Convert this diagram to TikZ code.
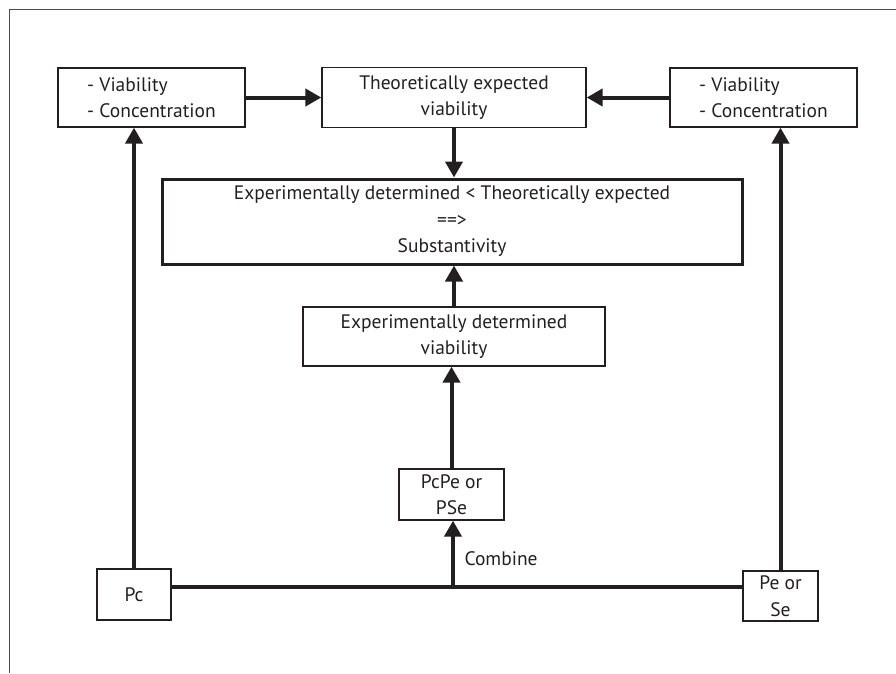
\documentclass[tikz,border=0pt]{standalone}
\usepackage{fontspec}
\setmainfont{PT Sans}
\usetikzlibrary{arrows.meta}
\definecolor{ink}{HTML}{231F20}
\begin{document}
\begin{tikzpicture}[x=1pt,y=-1pt,
  box/.style={draw=ink,line width=1.3pt,inner sep=0pt,align=center,font=\fontsize{19.5}{26.5}\selectfont,text=ink},
  bigbox/.style={box,line width=3pt},
  conn/.style={draw=ink,line width=4pt},
  arr/.style={conn,-{Triangle[length=16pt,width=17pt]}},
  lbl/.style={font=\fontsize{19.5}{26.5}\selectfont,text=ink}]
\useasboundingbox (0,0) rectangle (896,673);
\draw[line width=1.2pt,ink!80] (9.5,673) -- (9.5,9.5) -- (896,9.5);
\node[box,minimum width=187pt,minimum height=59pt,align=left] (lv) at (151.5,97.5) {- Viability\\- Concentration};
\node[box,minimum width=264pt,minimum height=60pt] (th) at (454,97.5) {Theoretically expected\\viability};
\node[box,minimum width=187pt,minimum height=59pt,align=left] (rv) at (763.5,97.5) {- Viability\\- Concentration};
\node[bigbox,minimum width=580pt,minimum height=85pt] (big) at (452,221.5) {Experimentally determined < Theoretically expected\\==>\\Substantivity};
\node[box,minimum width=302pt,minimum height=59pt] (exv) at (454,336.5) {Experimentally determined\\viability};
\node[box,minimum width=105pt,minimum height=51pt] (pcpe) at (451.5,494.5) {PcPe or\\PSe};
\node[box,minimum width=74pt,minimum height=51pt] (pc) at (134,594.5) {Pc};
\node[box,minimum width=75pt,minimum height=50pt] (pe) at (780.5,596) {Pe or\\Se};
\coordinate (mid) at (453,587);
\draw[arr] (lv.east) -- (th.west);
\draw[arr] (rv.west) -- (th.east);
\draw[arr] (th.south) -- (th.south |- big.north);
\draw[arr] (exv.north) -- (exv.north |- big.south);
\draw[arr] (pcpe.north) -- (pcpe.north |- exv.south);
\draw[arr] (pc.north) -- (pc.north |- lv.south);
\draw[arr] (pe.north) -- (pe.north |- rv.south);
\draw[conn] (pc.east |- mid) -- (pe.west |- mid);
\draw[arr] (mid) -- (mid |- pcpe.south);
\node[lbl,anchor=west] (comb) at (461,559) {Combine};
\end{tikzpicture}
\end{document}
